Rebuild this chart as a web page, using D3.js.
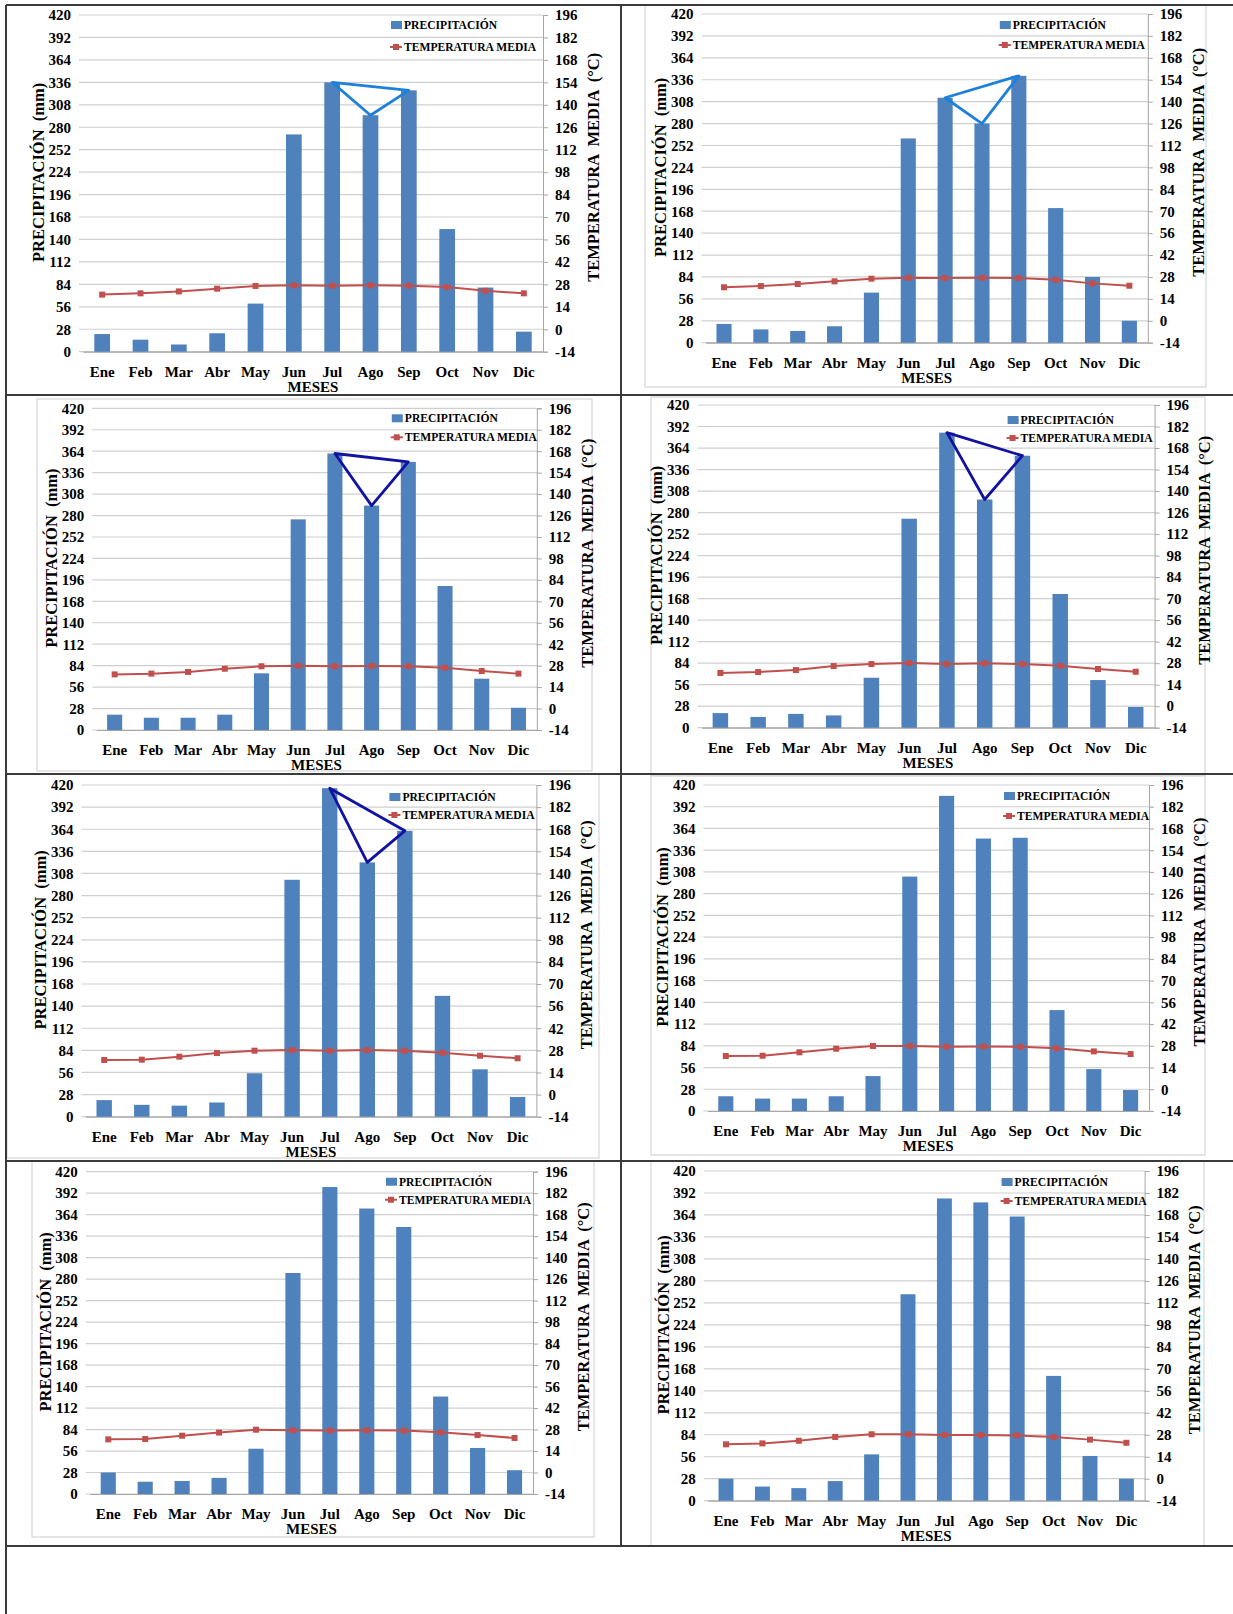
<!DOCTYPE html>
<html>
<head>
<meta charset="utf-8">
<script src="https://cdn.jsdelivr.net/npm/d3@7"></script>
<style>
  body { margin: 0; background: #ffffff; }
  svg { display: block; font-family: "Liberation Serif", "Times New Roman", serif; font-weight: bold; }
</style>
</head>
<body>
<svg id="chart" width="1233" height="1614"></svg>
<script>
// ---- data -------------------------------------------------------------
const months = ["Ene", "Feb", "Mar", "Abr", "May", "Jun", "Jul", "Ago", "Sep", "Oct", "Nov", "Dic"];
const precipTicks = [0, 28, 56, 84, 112, 140, 168, 196, 224, 252, 280, 308, 336, 364, 392, 420];
const tempTicks = [-14, 0, 14, 28, 42, 56, 70, 84, 98, 112, 126, 140, 154, 168, 182, 196];

// monthly precipitation (mm)
const precip1 = [22, 15, 9, 23, 60, 271, 336, 295, 326, 153, 80, 25];
const precip2 = [24, 17, 15, 21, 64, 261, 313, 280, 341, 172, 84, 28];
const precip3 = [20, 16, 16, 20, 74, 275, 361, 293, 350, 188, 67, 29];
const precip4 = [19, 14, 18, 16, 65, 272, 384, 297, 354, 174, 62, 27];
const precip5 = [21, 15, 14, 18, 55, 300, 416, 322, 362, 153, 60, 25];
const precip6 = [19, 16, 16, 19, 45, 302, 406, 351, 352, 130, 54, 27];
const precip7 = [28, 16, 17, 21, 59, 288, 400, 372, 348, 127, 60, 31];
const precip8 = [28, 18, 16, 25, 59, 263, 385, 380, 362, 159, 57, 28];

// monthly mean temperature (°C)
const temp1 = [21.6, 22.4, 23.6, 25.3, 27.0, 27.4, 27.2, 27.4, 27.2, 26.3, 24.0, 22.4];
const temp2 = [21.4, 22.2, 23.5, 25.2, 26.9, 27.5, 27.3, 27.5, 27.3, 26.2, 23.9, 22.4];
const temp3 = [22.3, 22.8, 23.9, 26.0, 27.6, 28.0, 27.6, 27.8, 27.6, 26.7, 24.5, 22.8];
const temp4 = [21.6, 22.2, 23.5, 26.1, 27.4, 28.1, 27.4, 27.9, 27.4, 26.3, 24.2, 22.4];
const temp5 = [21.9, 22.1, 24.0, 26.3, 27.8, 28.2, 27.8, 28.2, 27.8, 26.5, 24.6, 23.0];
const temp6 = [21.4, 21.6, 23.8, 26.1, 27.9, 27.9, 27.4, 27.6, 27.4, 26.4, 24.4, 22.7];
const temp7 = [21.6, 21.8, 24.0, 26.0, 27.9, 27.5, 27.3, 27.5, 27.3, 26.2, 24.4, 22.5];
const temp8 = [21.9, 22.5, 24.2, 26.6, 28.3, 28.3, 27.8, 27.8, 27.6, 26.6, 24.9, 22.9];

// months joined by the hand-drawn triangle over the wettest bars
const peakMonths = ["Jul", "Sep", "Ago"];

// ---- layout -----------------------------------------------------------
const panels = [
  { precip: precip1, temp: temp1, x0: 83,    x1: 543,    y0: 15,     y1: 351.7,  leg: [10, 32], legX: 139, peak: "#1f80da" },
  { precip: precip2, temp: temp2, x0: 705.6, x1: 1147.8, y0: 14,     y1: 342.7,  leg: [11, 31], legX: 135, peak: "#1f80da" },
  { precip: precip3, temp: temp3, x0: 96.3,  x1: 536.8,  y0: 408.3,  y1: 730,    leg: [10, 29], legX: 132, peak: "#1212a0" },
  { precip: precip4, temp: temp4, x0: 701.5, x1: 1154.6, y0: 405,    y1: 727.7,  leg: [15, 33], legX: 134, peak: "#1212a0" },
  { precip: precip5, temp: temp5, x0: 85.4,  x1: 536.4,  y0: 785,    y1: 1116.7, leg: [12, 30], legX: 134, peak: "#1212a0" },
  { precip: precip6, temp: temp6, x0: 707.4, x1: 1149,   y0: 785,    y1: 1111,   leg: [11, 31], legX: 132, peak: null },
  { precip: precip7, temp: temp7, x0: 89.8,  x1: 533,    y0: 1171.7, y1: 1494,   leg: [10, 28], legX: 134, peak: null },
  { precip: precip8, temp: temp8, x0: 707.8, x1: 1144.6, y0: 1171,   y1: 1500.7, leg: [11, 30], legX: 130, peak: null }
];

// light chart-area borders
const frames = [
  null,
  [645, 5, 1206, 387],
  [37, 399, 592, 771],
  [651, 397, 1205, 776],
  [7, 774, 599, 1158],
  [651, 775, 1205, 1155],
  [32, 1161, 594, 1537],
  [651, 1161, 1204, 1546]
];

const BAR = "#4f81bd", LINE = "#c0504d", GRID = "#cfcfcf", AXIS = "#a6a6a6";
const plain = d => String(d);

const svg = d3.select("#chart");

// strip the axis defaults so the serif page font applies
function styleAxisText(sel) {
  sel.attr("font-family", null).attr("font-size", null);
  sel.selectAll("text").attr("font-size", 15).attr("fill", "#000");
}

panels.forEach((p, i) => {
  const g = svg.append("g");
  const fr = frames[i];
  if (fr) {
    g.append("rect").attr("x", fr[0]).attr("y", fr[1])
      .attr("width", fr[2] - fr[0]).attr("height", fr[3] - fr[1])
      .attr("fill", "none").attr("stroke", "#cdcdcd").attr("stroke-width", 1);
  }

  const x = d3.scaleBand().domain(months).range([p.x0, p.x1])
    .paddingInner(0.59).paddingOuter(0.295);
  const yP = d3.scaleLinear().domain([0, 420]).range([p.y1, p.y0]);
  const yT = d3.scaleLinear().domain([-14, 196]).range([p.y1, p.y0]);
  const cx = m => x(m) + x.bandwidth() / 2;

  // gridlines
  g.append("g").selectAll("line").data(precipTicks).join("line")
    .attr("x1", p.x0 - 4).attr("x2", p.x1)
    .attr("y1", d => yP(d)).attr("y2", d => yP(d))
    .attr("stroke", GRID).attr("stroke-width", 1.2);

  // left axis labels
  const la = g.append("g").attr("transform", `translate(${p.x0},0)`)
    .call(d3.axisLeft(yP).tickValues(precipTicks).tickFormat(plain).tickSize(0).tickPadding(12));
  la.select(".domain").remove();
  styleAxisText(la);

  // right axis
  const ra = g.append("g").attr("transform", `translate(${p.x1},0)`)
    .call(d3.axisRight(yT).tickValues(tempTicks).tickFormat(plain).tickSize(5).tickPadding(7));
  ra.select(".domain").attr("stroke", AXIS);
  ra.selectAll(".tick line").attr("stroke", AXIS);
  styleAxisText(ra);

  // month labels
  const xa = g.append("g").attr("transform", `translate(0,${p.y1})`)
    .call(d3.axisBottom(x).tickSize(0));
  xa.select(".domain").attr("stroke", AXIS).attr("stroke-width", 1.2);
  styleAxisText(xa);
  xa.selectAll("text").attr("y", 20).attr("dy", "0.35em");

  g.append("text").attr("x", (p.x0 + p.x1) / 2).attr("y", p.y1 + 35).attr("dy", "0.35em")
    .attr("text-anchor", "middle").attr("font-size", 15).text("MESES");

  // axis titles
  const midY = (p.y0 + p.y1) / 2;
  g.append("text")
    .attr("transform", `translate(${p.x0 - 45},${midY - 11}) rotate(-90)`)
    .attr("text-anchor", "middle").attr("dy", "0.35em").attr("font-size", 16.5)
    .style("white-space", "pre").text("PRECIPITACIÓN  (mm)");
  g.append("text")
    .attr("transform", `translate(${p.x1 + 50},${midY - 16}) rotate(-90)`)
    .attr("text-anchor", "middle").attr("dy", "0.35em").attr("font-size", 16.5)
    .style("white-space", "pre").text("TEMPERATURA  MEDIA  (°C)");

  // bars
  g.append("g").selectAll("rect").data(p.precip).join("rect")
    .attr("x", (d, k) => x(months[k])).attr("width", x.bandwidth())
    .attr("y", d => yP(d)).attr("height", d => yP(0) - yP(d))
    .attr("fill", BAR);

  // temperature line
  const pts = p.temp.map((t, k) => [cx(months[k]), yT(t)]);
  g.append("path").attr("d", d3.line()(pts))
    .attr("fill", "none").attr("stroke", LINE).attr("stroke-width", 2);
  g.append("g").selectAll("rect").data(pts).join("rect")
    .attr("x", d => d[0] - 3).attr("y", d => d[1] - 3)
    .attr("width", 6).attr("height", 6).attr("fill", LINE);

  // triangle joining the wettest months
  if (p.peak) {
    const tri = peakMonths.map(m => [cx(m), yP(p.precip[months.indexOf(m)])]);
    g.append("path").attr("d", d3.line()(tri) + "Z")
      .attr("fill", "none").attr("stroke", p.peak).attr("stroke-width", 2.8)
      .attr("stroke-linejoin", "round");
  }

  // legend
  const lx = p.x1 - p.legX;
  const ly1 = p.y0 + p.leg[0], ly2 = p.y0 + p.leg[1];
  g.append("rect").attr("x", lx - 13).attr("y", ly1 - 4).attr("width", 11).attr("height", 8).attr("fill", BAR);
  g.append("text").attr("x", lx).attr("y", ly1).attr("dy", "0.35em").attr("font-size", 11.6).text("PRECIPITACIÓN");
  g.append("line").attr("x1", lx - 14).attr("x2", lx - 2).attr("y1", ly2).attr("y2", ly2)
    .attr("stroke", LINE).attr("stroke-width", 2);
  g.append("rect").attr("x", lx - 11).attr("y", ly2 - 3).attr("width", 6).attr("height", 6).attr("fill", LINE);
  g.append("text").attr("x", lx).attr("y", ly2).attr("dy", "0.35em").attr("font-size", 11.6).text("TEMPERATURA MEDIA");
});

// table rules
const rules = svg.append("g").attr("stroke", "#3a3a3a").attr("stroke-width", 2);
[5, 395, 774, 1161, 1546].forEach(y => {
  rules.append("line").attr("x1", 6).attr("x2", 1233).attr("y1", y).attr("y2", y);
});
rules.append("line").attr("x1", 6).attr("x2", 6).attr("y1", 5).attr("y2", 1614);
rules.append("line").attr("x1", 621).attr("x2", 621).attr("y1", 5).attr("y2", 1546);
</script>
</body>
</html>
